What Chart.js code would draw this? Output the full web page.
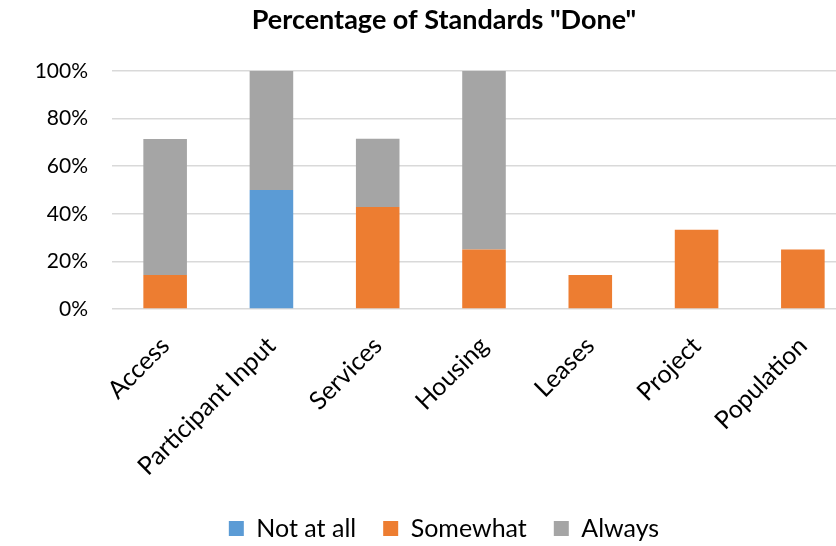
<!DOCTYPE html>
<html><head><meta charset="utf-8">
<script src="https://cdn.jsdelivr.net/npm/chart.js@4/dist/chart.umd.min.js"></script>
<style>html,body{margin:0;padding:0;overflow:hidden;background:#fff;width:836px;height:546px}#wrap{position:absolute;left:0;top:0;width:888px;height:546px}</style>
</head><body>
<div id="wrap"><canvas id="c" width="888" height="546"></canvas></div>
<script>
const categories = ["Access","Participant Input","Services","Housing","Leases","Project","Population"];
const notAtAll = [0, 50, 0, 0, 0, 0, 0];
const somewhat = [14.3, 0, 42.9, 25, 14.3, 33.3, 25];
const always = [57.1, 50, 28.6, 75, 0, 0, 0];
const yTicks = [0, 20, 40, 60, 80, 100];

const FONT = "Lato, 'Open Sans', sans-serif";
Chart.defaults.font.family = FONT;
Chart.defaults.color = "#000";

new Chart(document.getElementById("c"), {
  type: "bar",
  data: {
    labels: categories,
    datasets: [
      {label: "Not at all", data: notAtAll, backgroundColor: "#5B9BD5"},
      {label: "Somewhat", data: somewhat, backgroundColor: "#ED7D31"},
      {label: "Always", data: always, backgroundColor: "#A5A5A5"}
    ]
  },
  options: {
    responsive: false,
    animation: false,
    layout: {padding: {left: 0, right: 0, top: 0, bottom: -5}},
    datasets: {bar: {barPercentage: 0.41, categoryPercentage: 1.0}},
    plugins: {
      title: {display: true, text: 'Percentage of Standards "Done"', font: {size: 27, weight: "bold", family: FONT, lineHeight: 1.2}, color: "#000", padding: {top: 4, bottom: 34.6}},
      legend: {position: "bottom", labels: {font: {size: 25, family: FONT}, color: "#000", boxWidth: 15, boxHeight: 15, padding: 27}},
      tooltip: {enabled: false}
    },
    scales: {
      x: {
        stacked: true,
        grid: {display: false, drawTicks: false},
        border: {display: false},
        ticks: {font: {size: 25, family: FONT}, color: "#000", maxRotation: 45, minRotation: 45, padding: 22},
        afterFit: s => { s.height = 180; }
      },
      y: {
        stacked: true,
        min: 0, max: 100,
        afterBuildTicks: s => { s.ticks = yTicks.map(v => ({value: v})); },
        grid: {color: "#D9D9D9", lineWidth: 1.5, drawTicks: false},
        border: {display: false},
        ticks: {font: {size: 21, family: FONT}, color: "#000", padding: 24, callback: v => v + "%"},
        afterFit: s => { s.width = 112; }
      },
      yRight: {
        position: "right",
        display: true,
        min: 0, max: 100,
        grid: {display: false, drawTicks: false},
        border: {display: false},
        ticks: {display: false},
        afterFit: s => { s.width = 32; }
      }
    }
  }
});
</script>
</body></html>
